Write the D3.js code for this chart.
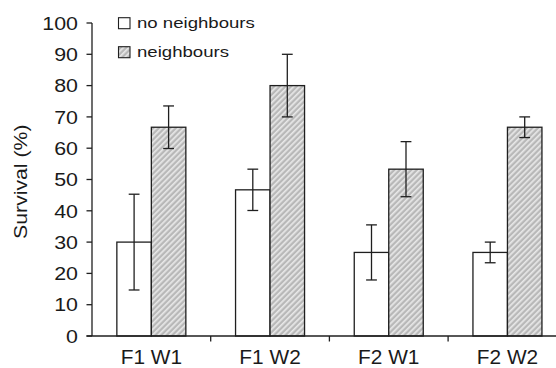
<!DOCTYPE html>
<html>
<head>
<meta charset="utf-8">
<script src="https://cdn.jsdelivr.net/npm/d3@7"></script>
<style>
  html, body { margin: 0; padding: 0; background: #fff; }
  svg { display: block; }
  text { font-family: "Liberation Sans", Arial, Helvetica, sans-serif; fill: #1a1a1a; }
</style>
</head>
<body>
<svg id="chart" width="556" height="368"></svg>
<script>
// Survival (%) per cohort, with and without neighbours, mean ± error
const categories = ["F1 W1", "F1 W2", "F2 W1", "F2 W2"];
const seriesNames = ["no neighbours", "neighbours"];
const noNeighbours = [30, 46.7, 26.7, 26.7];
const neighbours = [66.7, 80, 53.3, 66.7];
const noNeighboursErr = [15.3, 6.6, 8.8, 3.3];
const neighboursErr = [6.8, 10, 8.8, 3.3];
const yTicks = [0, 10, 20, 30, 40, 50, 60, 70, 80, 90, 100];

const ink = "#1f1f1f";
const svg = d3.select("#chart");

const y = d3.scaleLinear().domain([0, 100]).range([336, 23]);
const x = d3.scaleBand().domain(categories).range([92, 92 + 4 * 118.7]).padding(0);
const barW = 34.5;

// diagonal hatch fill
const defs = svg.append("defs");
const pat = defs.append("pattern")
  .attr("id", "hatch").attr("patternUnits", "userSpaceOnUse")
  .attr("width", 4).attr("height", 4)
  .attr("patternTransform", "rotate(45)");
pat.append("rect").attr("width", 4).attr("height", 4).attr("fill", "#b8b8b8");
pat.append("rect").attr("x", 0).attr("y", 0).attr("width", 1.7).attr("height", 4).attr("fill", "#e8e8e8");

const rows = categories.map((c, i) => ({
  cat: c,
  vals: [
    { s: 0, v: noNeighbours[i], e: noNeighboursErr[i] },
    { s: 1, v: neighbours[i], e: neighboursErr[i] }
  ]
}));

const barX = (cat, s) => x(cat) + x.bandwidth() / 2 - barW + s * barW;

// bars
const g = svg.append("g");
rows.forEach(r => {
  r.vals.forEach(d => {
    g.append("rect")
      .attr("x", barX(r.cat, d.s))
      .attr("y", y(d.v))
      .attr("width", barW)
      .attr("height", y(0) - y(d.v))
      .attr("fill", d.s === 0 ? "#fff" : "url(#hatch)")
      .attr("stroke", ink).attr("stroke-width", 1.3);
  });
});

// error bars
rows.forEach(r => {
  r.vals.forEach(d => {
    const cx = barX(r.cat, d.s) + barW / 2;
    const eg = g.append("g").attr("stroke", ink).attr("stroke-width", 1.3);
    eg.append("line").attr("x1", cx).attr("x2", cx).attr("y1", y(d.v + d.e)).attr("y2", y(d.v - d.e));
    [d.v + d.e, d.v - d.e].forEach(v => {
      eg.append("line").attr("x1", cx - 5.4).attr("x2", cx + 5.4).attr("y1", y(v)).attr("y2", y(v));
    });
  });
});

// helper: text slightly widened along its reading direction
function label(parent, txt, tx, ty, anchor, size, sx, rot) {
  const t = parent.append("g")
    .attr("transform", `translate(${tx},${ty})` + (rot ? ` rotate(${rot})` : "") + ` scale(${sx},1)`);
  t.append("text").attr("text-anchor", anchor).attr("font-size", size).text(txt);
  return t;
}

// y axis
const ya = svg.append("g").attr("stroke", ink).attr("stroke-width", 1.3);
ya.append("line").attr("x1", 92).attr("x2", 92).attr("y1", y(100)).attr("y2", y(0));
yTicks.forEach(t => {
  ya.append("line").attr("x1", 86.5).attr("x2", 92).attr("y1", y(t)).attr("y2", y(t));
  label(svg, String(t), 78, y(t) + 6.7, "end", 18.6, 1.15);
});

// x axis
const xa = svg.append("g").attr("stroke", ink).attr("stroke-width", 1.3);
xa.append("line").attr("x1", 86.5).attr("x2", 556).attr("y1", y(0)).attr("y2", y(0));
categories.slice(1).forEach(c => {
  xa.append("line").attr("x1", x(c)).attr("x2", x(c)).attr("y1", y(0)).attr("y2", y(0) + 5.5);
});
categories.forEach(c => {
  label(svg, c, x(c) + x.bandwidth() / 2, 364, "middle", 19.5, 1.07);
});

// y axis title
label(svg, "Survival (%)", 26.5, 181.7, "middle", 18, 1.18, -90);

// legend
const lg = svg.append("g");
seriesNames.forEach((name, i) => {
  const ly = 17.7 + i * 29;
  lg.append("rect").attr("x", 118.5).attr("y", ly).attr("width", 11.5).attr("height", 11)
    .attr("fill", i === 0 ? "#fff" : "url(#hatch)")
    .attr("stroke", ink).attr("stroke-width", 1.1);
  label(lg, name, 137, ly + 10.5, "start", 15.5, 1.2);
});
</script>
</body>
</html>
